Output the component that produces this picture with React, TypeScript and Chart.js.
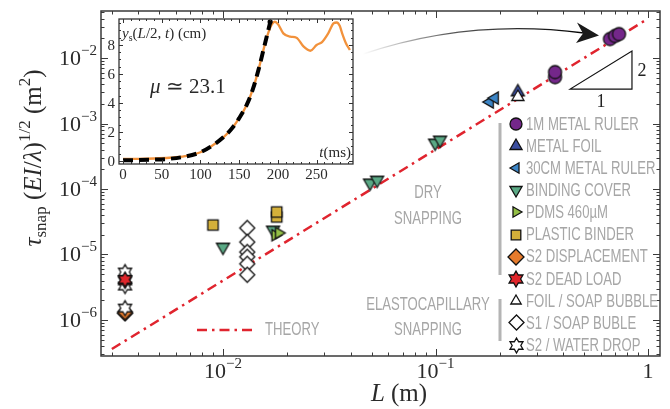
import React, { useEffect, useRef } from 'react';
import { Chart, registerables } from 'chart.js';
Chart.register(...registerables);

// ---------------- data ----------------
const rulerL = [0.365, 0.365, 0.662, 0.699, 0.73];
const rulerT = [0.0051, 0.0061, 0.0195, 0.0217, 0.0232];
const foilL = [0.244];
const foilT = [0.00303];
const ruler30L = [0.18, 0.19];
const ruler30T = [0.00213, 0.00245];
const bindingL = [0.01, 0.0172, 0.0492, 0.0531, 0.0995, 0.105];
const bindingT = [1.3e-5, 2.37e-5, 1.24e-4, 1.37e-4, 5.04e-4, 5.6e-4];
const pdmsL = [0.0176, 0.0183];
const pdmsT = [1.97e-5, 2.13e-5];
const binderL = [0.00897, 0.0179, 0.0179];
const binderT = [2.82e-5, 3.74e-5, 4.46e-5];
const dispL = [0.00346, 0.00346];
const dispT = [1.26e-6, 1.32e-6];
const deadL = [0.00346, 0.00346];
const deadT = [3.95e-6, 4.15e-6];
const foilSoapL = [0.244];
const foilSoapT = [0.00254];
const s1SoapL = [0.013, 0.013, 0.013, 0.013, 0.013, 0.013];
const s1SoapT = [2.54e-5, 1.55e-5, 1.09e-5, 9.2e-6, 7.2e-6, 4.9e-6];
const waterL = [0.00346, 0.00346, 0.00346];
const waterT = [5.4e-6, 3.3e-6, 1.52e-6];
const theoryL = [0.003, 0.97];
const theoryT = [3.6e-7, 0.0376];
const slopeL = [0.43, 0.84];
const slopeT = [0.00336, 0.0128];

const xTickValues = [0.01, 0.1, 1];
const xTickBases = ['10', '10', '1'];
const xTickExps = ['\u22122', '\u22121', ''];
const yTickValues = [1e-2, 1e-3, 1e-4, 1e-5, 1e-6];
const yTickExps = ['\u22122', '\u22123', '\u22124', '\u22125', '\u22126'];

const legendLabels = [
  '1M METAL RULER', 'METAL FOIL', '30CM METAL RULER', 'BINDING COVER', 'PDMS 460\u00b5M',
  'PLASTIC BINDER', 'S2 DISPLACEMENT', 'S2 DEAD LOAD', 'FOIL / SOAP BUBBLE', 'S1 / SOAP BUBLE', 'S2 / WATER DROP',
];

// inset data
const orangeT = [0, 20, 40, 60, 80, 100, 115, 130, 140, 150, 160, 168, 175, 182, 188, 192, 196, 200, 207, 216, 224, 233, 242, 250, 257, 265, 272, 276, 280, 283, 288, 293];
const orangeY = [0.15, 0.15, 0.17, 0.22, 0.33, 0.6, 1.05, 1.65, 2.2, 2.95, 3.9, 5.0, 6.3, 7.8, 8.9, 9.4, 9.6, 9.45, 8.8, 8.57, 8.5, 7.9, 7.6, 8.0, 8.2, 8.8, 9.5, 9.55, 9.3, 8.8, 8.1, 7.65];
const fitT = [0, 20, 40, 60, 80, 100, 115, 130, 140, 150, 160, 168, 175, 182, 190];
const fitY = [0.05, 0.06, 0.09, 0.15, 0.3, 0.6, 1.05, 1.65, 2.2, 2.95, 3.9, 5.0, 6.3, 7.8, 9.55];
const dotT = [190];
const dotY = [9.6];
const insetXTicks = [0, 50, 100, 150, 200, 250];
const insetYTicks = [0, 2, 4, 6, 8];

// ---------------- styles ----------------
const W = 670;
const H = 409;
const SERIF = '"Liberation Serif", "Times New Roman", serif';
const SANS = '"Liberation Sans", Arial, sans-serif';
const RED = '#e0242e';
const GREY = '#a6a6a6';
const C = {
  purple: '#74278a', foil: '#3b4ea0', ruler30: '#3c85c6', binding: '#5aa985', pdms: '#94c046',
  binder: '#d4b03a', disp: '#e67b2c', dead: '#e0262b', white: '#ffffff',
};

type Part = { t: string; f: string; dy?: number };
function partsWidth(ctx: CanvasRenderingContext2D, parts: Part[]) {
  let w = 0;
  for (const p of parts) { ctx.font = p.f; w += ctx.measureText(p.t).width; }
  return w;
}
function drawParts(ctx: CanvasRenderingContext2D, parts: Part[], x: number, y: number, align: string) {
  const w = partsWidth(ctx, parts);
  let cx = align === 'center' ? x - w / 2 : align === 'right' ? x - w : x;
  ctx.textAlign = 'left';
  ctx.textBaseline = 'alphabetic';
  for (const p of parts) {
    ctx.font = p.f;
    ctx.fillText(p.t, cx, y + (p.dy || 0));
    cx += ctx.measureText(p.t).width;
  }
}
function condText(ctx: CanvasRenderingContext2D, s: string, x: number, y: number, align: string, size = 17.5) {
  const sx = 0.75;
  ctx.font = `${size}px ${SANS}`;
  ctx.textAlign = 'left';
  ctx.textBaseline = 'middle';
  const w = ctx.measureText(s).width * sx;
  const start = align === 'center' ? x - w / 2 : x;
  ctx.save();
  ctx.translate(start, y);
  ctx.scale(sx, 1);
  ctx.fillText(s, 0, 0);
  ctx.restore();
}

function makeMarker(shape: string, size: number, fill: string, lw = 1.3) {
  const pad = 3;
  const S = Math.ceil(size + pad * 2);
  const c = document.createElement('canvas');
  c.width = S; c.height = S;
  const g = c.getContext('2d')!;
  const cx = S / 2, cy = S / 2, r = size / 2;
  g.beginPath();
  if (shape === 'circle') {
    g.arc(cx, cy, r, 0, Math.PI * 2);
  } else if (shape === 'square') {
    g.rect(cx - r * 0.8, cy - r * 0.8, r * 1.6, r * 1.6);
  } else if (shape === 'diamond') {
    g.moveTo(cx, cy - r); g.lineTo(cx + r, cy); g.lineTo(cx, cy + r); g.lineTo(cx - r, cy); g.closePath();
  } else if (shape === 'star') {
    for (let k = 0; k < 12; k++) {
      const a = -Math.PI / 2 + (k * Math.PI) / 6;
      const rr = k % 2 === 0 ? r : r / Math.sqrt(3);
      const px = cx + rr * Math.cos(a), py = cy + rr * Math.sin(a);
      if (k === 0) g.moveTo(px, py); else g.lineTo(px, py);
    }
    g.closePath();
  } else {
    const base = shape === 'up' ? -Math.PI / 2 : shape === 'down' ? Math.PI / 2 : shape === 'left' ? Math.PI : 0;
    for (let k = 0; k < 3; k++) {
      const a = base + (k * 2 * Math.PI) / 3;
      const px = cx + r * Math.cos(a), py = cy + r * Math.sin(a);
      if (k === 0) g.moveTo(px, py); else g.lineTo(px, py);
    }
    g.closePath();
  }
  g.fillStyle = fill;
  g.fill();
  g.lineWidth = lw;
  g.lineJoin = 'miter';
  g.strokeStyle = '#111111';
  g.stroke();
  return c;
}

function pts(L: number[], T: number[]) {
  return L.map((x, i) => ({ x, y: T[i] }));
}

export default function App() {
  const mainRef = useRef<HTMLCanvasElement>(null);
  const insetRef = useRef<HTMLCanvasElement>(null);

  useEffect(() => {
    const M = {
      circle: makeMarker('circle', 13, C.purple),
      foil: makeMarker('up', 15, C.foil),
      ruler30: makeMarker('left', 14, C.ruler30),
      binding: makeMarker('down', 15, C.binding),
      pdms: makeMarker('right', 13, C.pdms),
      binder: makeMarker('square', 13, C.binder),
      disp: makeMarker('diamond', 15, C.disp),
      dead: makeMarker('star', 15, C.dead),
      foilSoap: makeMarker('up', 14, C.white),
      s1: makeMarker('diamond', 15, C.white),
      water: makeMarker('star', 15, C.white),
    };
    const legendMarkers = [
      makeMarker('circle', 12, C.purple), makeMarker('up', 14, C.foil), makeMarker('left', 12, C.ruler30),
      makeMarker('down', 14, C.binding), makeMarker('right', 12, C.pdms), makeMarker('square', 12, C.binder),
      makeMarker('diamond', 16, C.disp), makeMarker('star', 16, C.dead), makeMarker('up', 12, C.white),
      makeMarker('diamond', 15, C.white), makeMarker('star', 15, C.white),
    ];

    const sc = (L: number[], T: number[], m: HTMLCanvasElement) => ({
      data: pts(L, T), pointStyle: m, pointRadius: 6, showLine: false,
    });

    const mainPlugin = {
      id: 'mainDeco',
      afterDraw(chart: any) {
        const ctx: CanvasRenderingContext2D = chart.ctx;
        const a = chart.chartArea;
        const xs = chart.scales.x, ys = chart.scales.y;
        ctx.save();
        // frame
        ctx.strokeStyle = '#3a3a3a';
        ctx.lineWidth = 1.5;
        ctx.strokeRect(a.left, a.top, a.right - a.left, a.bottom - a.top);
        // ticks
        ctx.lineWidth = 1;
        ctx.beginPath();
        for (let e = -3; e <= 0; e++) {
          for (let m = 1; m <= 9; m++) {
            const v = m * Math.pow(10, e);
            if (v < xs.min || v > xs.max) continue;
            const px = Math.round(xs.getPixelForValue(v)) + 0.5;
            const len = m === 1 ? 7 : 3.5;
            ctx.moveTo(px, a.bottom); ctx.lineTo(px, a.bottom - len);
            ctx.moveTo(px, a.top); ctx.lineTo(px, a.top + len);
          }
        }
        for (let e = -7; e <= -1; e++) {
          for (let m = 1; m <= 9; m++) {
            const v = m * Math.pow(10, e);
            if (v < ys.min || v > ys.max) continue;
            const py = Math.round(ys.getPixelForValue(v)) + 0.5;
            const len = m === 1 ? 7 : 3.5;
            ctx.moveTo(a.left, py); ctx.lineTo(a.left + len, py);
            ctx.moveTo(a.right, py); ctx.lineTo(a.right - len, py);
          }
        }
        ctx.stroke();
        // tick labels
        ctx.fillStyle = '#2a2a2a';
        xTickValues.forEach((v, i) => {
          const px = xs.getPixelForValue(v);
          const parts: Part[] = [{ t: xTickBases[i], f: `22px ${SERIF}` }];
          if (xTickExps[i]) parts.push({ t: xTickExps[i], f: `15px ${SERIF}`, dy: -10 });
          drawParts(ctx, parts, px, 378, 'center');
        });
        yTickValues.forEach((v, i) => {
          const py = ys.getPixelForValue(v);
          drawParts(ctx, [{ t: '10', f: `22px ${SERIF}` }, { t: yTickExps[i], f: `15px ${SERIF}`, dy: -10 }], 97, py + 7, 'right');
        });
        // axis titles
        drawParts(ctx, [{ t: 'L', f: `italic 25px ${SERIF}` }, { t: ' (m)', f: `25px ${SERIF}` }], 399, 401, 'center');
        ctx.save();
        ctx.translate(41, 158);
        ctx.rotate(-Math.PI / 2);
        drawParts(ctx, [
          { t: '\u03c4', f: `italic 25px ${SERIF}` },
          { t: 'snap', f: `17px ${SERIF}`, dy: 5 },
          { t: ' (', f: `25px ${SERIF}` },
          { t: 'EI', f: `italic 25px ${SERIF}` },
          { t: '/', f: `25px ${SERIF}` },
          { t: '\u03bb', f: `italic 25px ${SERIF}` },
          { t: ')', f: `25px ${SERIF}` },
          { t: '1/2', f: `17px ${SERIF}`, dy: -11 },
          { t: ' (m', f: `25px ${SERIF}` },
          { t: '2', f: `17px ${SERIF}`, dy: -11 },
          { t: ')', f: `25px ${SERIF}` },
        ], 0, 0, 'center');
        ctx.restore();
        // slope triangle
        const sx0 = xs.getPixelForValue(slopeL[0]), sx1 = xs.getPixelForValue(slopeL[1]);
        const sy0 = ys.getPixelForValue(slopeT[0]), sy1 = ys.getPixelForValue(slopeT[1]);
        ctx.strokeStyle = '#111';
        ctx.lineWidth = 1.2;
        ctx.beginPath();
        ctx.moveTo(sx0, sy0); ctx.lineTo(sx1, sy0); ctx.lineTo(sx1, sy1); ctx.closePath();
        ctx.stroke();
        ctx.fillStyle = '#222';
        drawParts(ctx, [{ t: '2', f: `18px ${SERIF}` }], sx1 + 10, (sy0 + sy1) / 2 + 6, 'center');
        drawParts(ctx, [{ t: '1', f: `18px ${SERIF}` }], (sx0 + sx1) / 2, sy0 + 18, 'center');
        // arrow
        const grad = ctx.createLinearGradient(363, 0, 585, 0);
        grad.addColorStop(0, 'rgba(0,0,0,0)');
        grad.addColorStop(0.4, 'rgba(0,0,0,0.65)');
        grad.addColorStop(1, 'rgba(0,0,0,1)');
        ctx.strokeStyle = grad;
        ctx.lineWidth = 1.4;
        ctx.beginPath();
        ctx.moveTo(363, 54);
        ctx.quadraticCurveTo(470, 18, 584, 33);
        ctx.stroke();
        ctx.fillStyle = '#1a1a1a';
        ctx.beginPath();
        ctx.moveTo(599, 35.5);
        ctx.lineTo(577, 22.5);
        ctx.lineTo(583, 33.5);
        ctx.lineTo(576, 43);
        ctx.closePath();
        ctx.fill();
        // theory legend
        ctx.strokeStyle = RED;
        ctx.lineWidth = 2.5;
        ctx.setLineDash([10, 5, 2.5, 5]);
        ctx.beginPath();
        ctx.moveTo(197, 330); ctx.lineTo(253, 330);
        ctx.stroke();
        ctx.setLineDash([]);
        ctx.fillStyle = GREY;
        condText(ctx, 'THEORY', 265, 330, 'left');
        condText(ctx, 'DRY', 428, 193, 'center');
        condText(ctx, 'SNAPPING', 428, 219, 'center');
        condText(ctx, 'ELASTOCAPILLARY', 428, 305, 'center');
        condText(ctx, 'SNAPPING', 428, 330, 'center');
        // grey bars
        ctx.fillStyle = '#b4b4b4';
        ctx.fillRect(498.5, 123, 3, 152);
        ctx.fillRect(498.5, 299, 3, 42);
        // legend
        legendLabels.forEach((lab, i) => {
          const y = 124 + i * 22.1;
          const m = legendMarkers[i];
          ctx.drawImage(m, Math.round(516 - m.width / 2), Math.round(y - m.height / 2));
          ctx.fillStyle = GREY;
          condText(ctx, lab, 526, y + 1, 'left');
        });
        ctx.restore();
      },
    };

    const main = new Chart(mainRef.current!, {
      type: 'scatter',
      data: {
        datasets: [
          sc(deadL, deadT, M.dead),
          sc(waterL, waterT, M.water),
          sc(dispL, dispT, M.disp),
          sc(s1SoapL, s1SoapT, M.s1),
          sc(rulerL, rulerT, M.circle),
          sc(foilSoapL, foilSoapT, M.foilSoap),
          sc(foilL, foilT, M.foil),
          sc(ruler30L, ruler30T, M.ruler30),
          sc(pdmsL, pdmsT, M.pdms),
          sc(bindingL, bindingT, M.binding),
          sc(binderL, binderT, M.binder),
          {
            data: pts(theoryL, theoryT), showLine: true, pointRadius: 0, borderColor: RED,
            borderWidth: 2.5, borderDash: [10, 5, 2.5, 5], fill: false,
          } as any,
        ],
      },
      options: {
        animation: false,
        responsive: false,
        events: [],
        layout: { padding: { left: 101, top: 11, right: 10, bottom: 53 } },
        scales: {
          x: { type: 'logarithmic', min: 0.002667, max: 1.138, display: false },
          y: { type: 'logarithmic', min: 2.82e-7, max: 0.0522, display: false },
        },
        plugins: { legend: { display: false }, tooltip: { enabled: false } },
      },
      plugins: [mainPlugin],
    } as any);

    const insetPlugin = {
      id: 'insetDeco',
      beforeDraw(chart: any) {
        const ctx: CanvasRenderingContext2D = chart.ctx;
        const a = chart.chartArea;
        ctx.save();
        ctx.fillStyle = '#ffffff';
        ctx.fillRect(a.left, a.top, a.right - a.left, a.bottom - a.top);
        ctx.restore();
      },
      afterDraw(chart: any) {
        const ctx: CanvasRenderingContext2D = chart.ctx;
        const a = chart.chartArea;
        const xs = chart.scales.x, ys = chart.scales.y;
        ctx.save();
        ctx.strokeStyle = '#333';
        ctx.lineWidth = 1.3;
        ctx.strokeRect(a.left, a.top, a.right - a.left, a.bottom - a.top);
        ctx.lineWidth = 1;
        ctx.beginPath();
        for (let t = 0; t <= 290; t += 10) {
          const px = Math.round(xs.getPixelForValue(t)) + 0.5;
          const len = t % 50 === 0 ? 4 : 2;
          ctx.moveTo(px, a.bottom); ctx.lineTo(px, a.bottom - len);
          ctx.moveTo(px, a.top); ctx.lineTo(px, a.top + len);
        }
        for (let v = 0; v <= 9.5; v += 0.5) {
          const py = Math.round(ys.getPixelForValue(v)) + 0.5;
          const len = v % 2 === 0 ? 4 : 2;
          ctx.moveTo(a.left, py); ctx.lineTo(a.left + len, py);
          ctx.moveTo(a.right, py); ctx.lineTo(a.right - len, py);
        }
        ctx.stroke();
        ctx.fillStyle = '#2a2a2a';
        insetXTicks.forEach((v) => {
          drawParts(ctx, [{ t: String(v), f: `15px ${SERIF}` }], xs.getPixelForValue(v), 179, 'center');
        });
        insetYTicks.forEach((v) => {
          drawParts(ctx, [{ t: String(v), f: `15px ${SERIF}` }], 115, ys.getPixelForValue(v) + 5, 'right');
        });
        drawParts(ctx, [
          { t: 'y', f: `italic 15px ${SERIF}` },
          { t: 's', f: `10px ${SERIF}`, dy: 3 },
          { t: '(', f: `15px ${SERIF}` },
          { t: 'L', f: `italic 15px ${SERIF}` },
          { t: '/2, ', f: `15px ${SERIF}` },
          { t: 't', f: `italic 15px ${SERIF}` },
          { t: ') (cm)', f: `15px ${SERIF}` },
        ], 122, 38, 'left');
        drawParts(ctx, [
          { t: '\u03bc', f: `italic 21px ${SERIF}` },
          { t: ' \u2243 23.1', f: `21px ${SERIF}` },
        ], 150, 93, 'left');
        drawParts(ctx, [
          { t: 't', f: `italic 15px ${SERIF}` },
          { t: '(ms)', f: `15px ${SERIF}` },
        ], 351, 157, 'right');
        ctx.restore();
      },
    };

    const inset = new Chart(insetRef.current!, {
      type: 'line',
      data: {
        datasets: [
          { data: pts(dotT, dotY), showLine: false, pointRadius: 2.6, pointBackgroundColor: '#000', pointBorderWidth: 0 },
          {
            data: pts(fitT, fitY), borderColor: '#000', borderWidth: 4, borderDash: [10, 6], pointRadius: 0,
            cubicInterpolationMode: 'monotone', fill: false,
          },
          {
            data: pts(orangeT, orangeY), borderColor: '#f2923c', borderWidth: 2.3, pointRadius: 0,
            cubicInterpolationMode: 'monotone', fill: false,
          },
        ],
      },
      options: {
        animation: false,
        responsive: false,
        events: [],
        layout: { padding: { left: 119, top: 19, right: W - 353, bottom: H - 164 } },
        scales: {
          x: { type: 'linear', min: -5.2, max: 297, display: false },
          y: { type: 'linear', min: -0.21, max: 9.79, display: false },
        },
        plugins: { legend: { display: false }, tooltip: { enabled: false } },
      },
      plugins: [insetPlugin],
    } as any);

    return () => {
      main.destroy();
      inset.destroy();
    };
  }, []);

  return (
    <div style={{ position: 'fixed', left: 0, top: 0, width: W, height: H, background: '#fff' }}>
      <canvas ref={mainRef} width={W} height={H} style={{ position: 'absolute', left: 0, top: 0, width: W, height: H }} />
      <canvas ref={insetRef} width={W} height={H} style={{ position: 'absolute', left: 0, top: 0, width: W, height: H, pointerEvents: 'none' }} />
    </div>
  );
}
